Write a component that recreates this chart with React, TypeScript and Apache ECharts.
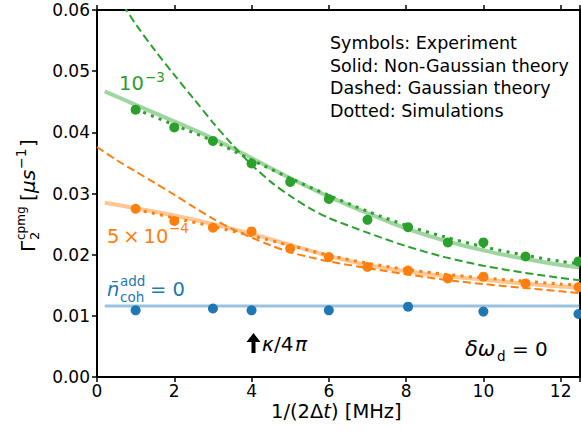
import React, { useEffect, useRef } from 'react';
import * as echarts from 'echarts';

const FONT = 'DejaVu Sans';
const GREEN = '#2ca02c';
const ORANGE = '#ff7f0e';
const BLUE = '#1f77b4';

// Experimental points
const expX = [1, 2, 3, 4, 5, 6, 7, 8.05, 9.08, 10, 11.09, 12.46];
const greenExp = [0.0437, 0.0408, 0.0386, 0.0349, 0.0319, 0.0291, 0.0257, 0.0245, 0.022, 0.022, 0.0197, 0.0189];
const orangeExp = [0.0275, 0.0255, 0.0244, 0.0238, 0.021, 0.0196, 0.018, 0.0174, 0.0161, 0.0164, 0.0153, 0.0147];
const blueX = [1, 3, 4, 6, 8.05, 10, 12.46];
const blueExp = [0.0109, 0.0112, 0.0109, 0.0109, 0.0115, 0.0107, 0.0103];

// Non-Gaussian theory (solid)
const solidX = [0.2, 1, 2, 3, 4, 5, 6, 7, 8, 9, 10, 11, 12, 12.5];
const greenSolid = [0.0467, 0.0445, 0.0418, 0.039, 0.0358, 0.0325, 0.0295, 0.0268, 0.0243, 0.0223, 0.0207, 0.0194, 0.0183, 0.0179];
const orangeSolid = [0.0285, 0.0276, 0.0264, 0.025, 0.0234, 0.0216, 0.0198, 0.0183, 0.0173, 0.0165, 0.0159, 0.0153, 0.0148, 0.0146];
const blueSolidX = [0.2, 12.5];
const blueSolid = [0.0116, 0.0116];

// Simulations (dotted)
const dottedX = [1, 2, 3, 4, 5, 6, 7, 8, 9, 10, 11, 12, 12.5];
const greenDotted = [0.0438, 0.0412, 0.0386, 0.0355, 0.0325, 0.0297, 0.0271, 0.0248, 0.0229, 0.0213, 0.02, 0.0189, 0.0185];
const orangeDotted = [0.0274, 0.026, 0.0246, 0.0231, 0.0215, 0.0199, 0.0186, 0.0176, 0.0168, 0.0162, 0.0157, 0.0152, 0.015];

// Gaussian theory (dashed)
const greenDashX = [0.5, 0.76, 1, 1.5, 2, 2.5, 3, 3.5, 4, 4.5, 5, 5.5, 6, 7, 8, 9, 10, 11, 12, 12.5];
const greenDash = [0.0624, 0.06, 0.0577, 0.0534, 0.0494, 0.0455, 0.0416, 0.038, 0.0347, 0.0319, 0.0296, 0.0276, 0.026, 0.0236, 0.0214, 0.0196, 0.0182, 0.0171, 0.0162, 0.0158];
const orangeDashX = [0, 0.5, 1, 1.5, 2, 2.5, 3, 3.5, 4, 4.5, 5, 5.5, 6, 7, 8, 9, 10, 11, 12, 12.5];
const orangeDash = [0.0376, 0.0355, 0.0336, 0.0317, 0.0298, 0.0278, 0.0259, 0.0242, 0.0228, 0.0215, 0.0204, 0.0196, 0.0189, 0.0178, 0.0168, 0.0159, 0.0152, 0.0146, 0.014, 0.0137];

const xTicks = [0, 2, 4, 6, 8, 10, 12];

const zip = (xs: number[], ys: number[]) => xs.map((x, i) => [x, ys[i]]);

const txt = (text: string, x: number, y: number, size: number, color: string, extra: any = {}) => ({
  type: 'text',
  x,
  y,
  silent: true,
  style: {
    text,
    fontSize: size,
    fontFamily: FONT,
    fill: color,
    align: 'left',
    verticalAlign: 'middle',
    textAlign: 'left',
    textVerticalAlign: 'middle',
    ...extra,
  },
});

const lineSeries = (data: number[][], color: string, width: number, type: any, opacity = 1, z = 2) => ({
  type: 'line',
  data,
  showSymbol: false,
  symbol: 'none',
  smooth: 0.3,
  clip: true,
  z,
  lineStyle: { color, width, type, opacity, cap: 'butt' },
  emphasis: { disabled: true },
});

const scatterSeries = (data: number[][], color: string) => ({
  type: 'scatter',
  data,
  symbol: 'circle',
  symbolSize: 10,
  z: 5,
  itemStyle: { color, opacity: 1 },
  emphasis: { disabled: true },
});

const axisCommon = {
  splitLine: { show: false },
  axisLine: { show: true, onZero: false, lineStyle: { color: '#000', width: 2 } },
  axisTick: { show: true, inside: false, length: 5, lineStyle: { color: '#000', width: 1.5 } },
};

const option: any = {
  animation: false,
  backgroundColor: '#fff',
  grid: { left: 97, right: 1, top: 10, bottom: 57, containLabel: false, outerBoundsMode: 'none' },
  xAxis: [
    {
      type: 'value',
      min: 0,
      max: 12.5,
      interval: 2,
      ...axisCommon,
      axisLabel: {
        color: '#000',
        fontSize: 17,
        lineHeight: 14,
        fontFamily: FONT,
        margin: 7,
        formatter: (v: number) => (xTicks.indexOf(v) >= 0 ? String(v) : ''),
      },
    },
    {
      type: 'value',
      position: 'top',
      min: 0,
      max: 12.5,
      interval: 2,
      ...axisCommon,
      axisLabel: { show: false },
    },
  ],
  yAxis: [
    {
      type: 'value',
      min: 0,
      max: 0.06,
      interval: 0.01,
      ...axisCommon,
      axisLabel: {
        color: '#000',
        fontSize: 17,
        fontFamily: FONT,
        margin: 7,
        formatter: (v: number) => v.toFixed(2),
      },
    },
    {
      type: 'value',
      position: 'right',
      min: 0,
      max: 0.06,
      interval: 0.01,
      ...axisCommon,
      axisTick: { show: false },
      axisLabel: { show: false },
    },
  ],
  series: [
    lineSeries(zip(greenDashX, greenDash), GREEN, 2, [8, 4]),
    lineSeries(zip(orangeDashX, orangeDash), ORANGE, 2, [8, 4]),
    lineSeries(zip(solidX, greenSolid), GREEN, 4, 'solid', 0.45),
    lineSeries(zip(solidX, orangeSolid), ORANGE, 4, 'solid', 0.45),
    lineSeries(zip(blueSolidX, blueSolid), BLUE, 3, 'solid', 0.45),
    lineSeries(zip(dottedX, greenDotted), GREEN, 3, [3, 5.3], 1, 3),
    lineSeries(zip(dottedX, orangeDotted), ORANGE, 3, [3, 5.3], 1, 3),
    scatterSeries(zip(expX, greenExp), GREEN),
    scatterSeries(zip(expX, orangeExp), ORANGE),
    scatterSeries(zip(blueX, blueExp), BLUE),
  ],
  graphic: [
    // legend text block
    {
      type: 'text',
      x: 330,
      y: 32,
      silent: true,
      style: {
        text: 'Symbols: Experiment\nSolid: Non-Gaussian theory\nDashed: Gaussian theory\nDotted: Simulations',
        fontSize: 17.5,
        fontFamily: FONT,
        fill: '#000',
        lineHeight: 22.5,
        align: 'left',
        verticalAlign: 'top',
        textAlign: 'left',
        textVerticalAlign: 'top',
      },
    },
    // 10^-3
    txt('10', 119, 83, 19.5, GREEN),
    txt('\u22123', 145, 77, 13.5, GREEN),
    // 5 x 10^-4
    txt('5\u2009\u00d7\u200910', 107, 236, 19.5, ORANGE),
    txt('\u22124', 169, 228, 13.5, ORANGE),
    // n_coh^add = 0
    txt('n\u0304', 107, 289, 19.5, BLUE, { fontStyle: 'italic' }),
    txt('add', 120, 281, 13.5, BLUE),
    txt('coh', 120, 297, 13.5, BLUE),
    txt('= 0', 150, 289, 19.5, BLUE),
    // kappa arrow
    {
      type: 'polygon',
      silent: true,
      shape: {
        points: [
          [246.5, 342],
          [253.5, 333],
          [260.5, 342],
          [255.5, 342],
          [255.5, 353],
          [251.5, 353],
          [251.5, 342],
        ],
      },
      style: { fill: '#000' },
    },
    txt('\u03ba', 262, 344, 20, '#000', { fontStyle: 'italic' }),
    txt('/4', 274, 344, 20, '#000'),
    txt('\u03c0', 295, 344, 20, '#000', { fontStyle: 'italic' }),
    // delta omega_d = 0
    txt('\u03b4\u03c9', 465, 349, 21, '#000', { fontStyle: 'italic' }),
    txt('d', 497, 356, 13.5, '#000'),
    txt('= 0', 512, 349, 20, '#000'),
    // x axis label
    {
      type: 'text',
      x: 271,
      y: 411,
      silent: true,
      style: {
        text: '{a|1/(2\u0394}{i|t}{a|) [MHz]}',
        fontSize: 19.5,
        fontFamily: FONT,
        fill: '#000',
        align: 'left',
        verticalAlign: 'middle',
        textAlign: 'left',
        textVerticalAlign: 'middle',
        rich: {
          a: { fontSize: 19.5, fontFamily: FONT, fill: '#000', lineHeight: 18 },
          i: { fontSize: 19.5, fontFamily: FONT, fontStyle: 'italic', fill: '#000', lineHeight: 18 },
        },
      },
    },
    // y axis label (rotated)
    {
      type: 'group',
      x: 28,
      y: 252,
      rotation: Math.PI / 2,
      silent: true,
      children: [
        txt('\u0393', 0, 0, 20, '#000'),
        txt('2', 12, 6, 13, '#000'),
        txt('cpmg', 12, -7, 12, '#000'),
        txt('[', 51, 0, 20, '#000'),
        txt('\u03bcs', 59, 0, 20, '#000', { fontStyle: 'italic' }),
        txt('\u22121', 83, -7, 14, '#000'),
        txt(']', 105, 0, 20, '#000'),
      ],
    },
  ],
};

export default function App() {
  const ref = useRef<HTMLDivElement>(null);
  useEffect(() => {
    const chart = echarts.init(ref.current as HTMLDivElement, null, { renderer: 'svg' });
    chart.setOption(option);
    return () => chart.dispose();
  }, []);
  return (
    <div
      ref={ref}
      style={{ position: 'fixed', left: 0, top: 0, width: 581, height: 434, background: '#fff' }}
    />
  );
}
